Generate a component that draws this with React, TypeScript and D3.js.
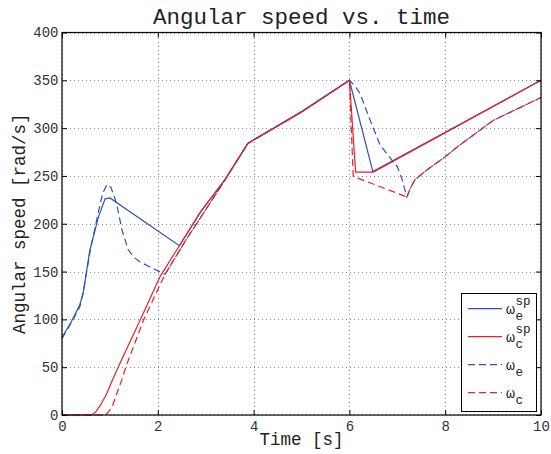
import React, { useEffect, useRef } from 'react';
import * as d3 from 'd3';

// tick values
const xTicks = [0, 2, 4, 6, 8, 10];
const yTicks = [0, 50, 100, 150, 200, 250, 300, 350, 400];

// [time s, speed rad/s]
const omegaESp: [number, number][] = [
  [0, 81], [0.2, 98], [0.37, 115], [0.44, 127], [0.58, 172], [0.76, 207],
  [0.9, 226], [1.0, 227], [2.45, 177], [2.9, 213], [3.4, 246], [3.88, 284],
  [5, 317], [6, 350], [6.49, 254.5], [10, 350],
];
const omegaCSp: [number, number][] = [
  [0, 0], [0.62, 0], [0.7, 3], [0.8, 10], [0.93, 22], [1.05, 36], [1.21, 54],
  [1.63, 99], [2.05, 145], [2.45, 177], [2.9, 213], [3.4, 246], [3.88, 284],
  [5, 317], [6, 350], [6.13, 254], [6.5, 254], [10, 350],
];
const omegaE: [number, number][] = [
  [0, 80], [0.2, 97], [0.37, 113], [0.45, 130], [0.6, 175], [0.75, 210],
  [0.85, 232], [0.93, 240], [0.97, 241], [1.02, 238], [1.08, 230], [1.14, 221],
  [1.25, 194], [1.38, 173], [1.5, 165], [1.63, 160], [2.15, 147], [2.6, 184],
  [3.33, 240], [3.88, 284], [5, 317], [6, 350], [6.1, 345], [6.22, 336.5],
  [6.43, 308.6], [6.64, 282.4], [6.8, 272], [7.0, 259.7], [7.09, 247.9],
  [7.2, 228], [7.28, 238], [7.37, 246], [7.61, 256], [8.0, 270], [8.27, 281],
  [9, 308], [10, 332],
];
const omegaC: [number, number][] = [
  [0, 0], [0.88, 0], [0.95, 2], [1.05, 9], [1.14, 22], [1.25, 37], [1.36, 54],
  [1.7, 99], [2.15, 147], [2.6, 184], [3.33, 240], [3.88, 284], [5, 317],
  [6, 350], [6.08, 249.5], [7.2, 228], [7.28, 238], [7.37, 246], [7.61, 256],
  [8.0, 270], [8.27, 281], [9, 308], [10, 332],
];

const legendSubs = ['e', 'c', 'e', 'c'];
const legendSups = ['sp', 'sp', '', ''];

const BLUE = '#2f52b0';
const RED = '#e8202a';
const FONT = '"Courier New", "Liberation Mono", monospace';

const App = () => {
  const ref = useRef<HTMLDivElement>(null);

  useEffect(() => {
    const width = 551;
    const height = 454;
    const margin = { top: 32.5, right: 10, bottom: 39, left: 62 };

    d3.select(ref.current).select('svg').remove();

    const svg = d3.select(ref.current)
      .append('svg')
      .attr('width', width)
      .attr('height', height)
      .style('display', 'block')
      .style('background', '#fff');

    const x = d3.scaleLinear().domain([0, 10]).range([margin.left, width - margin.right]);
    const y = d3.scaleLinear().domain([0, 400]).range([height - margin.bottom, margin.top]);
    const [x0, x1] = x.range();
    const [y0, y1] = y.range();

    // dotted grid
    const grid = svg.append('g')
      .attr('stroke', '#8a8a8a')
      .attr('stroke-width', 1)
      .attr('stroke-dasharray', '1,3');
    grid.selectAll('.gx')
      .data(xTicks)
      .enter().append('line')
      .attr('x1', d => Math.round(x(d)) + 0.5)
      .attr('x2', d => Math.round(x(d)) + 0.5)
      .attr('y1', y0)
      .attr('y2', y1);
    grid.selectAll('.gy')
      .data(yTicks)
      .enter().append('line')
      .attr('x1', x0)
      .attr('x2', x1)
      .attr('y1', d => Math.round(y(d)) + 0.5)
      .attr('y2', d => Math.round(y(d)) + 0.5);

    // series
    const line = d3.line<[number, number]>()
      .x(d => x(d[0]))
      .y(d => y(d[1]));

    const series = [
      { data: omegaESp, color: BLUE, dash: null },
      { data: omegaCSp, color: RED, dash: null },
      { data: omegaE, color: BLUE, dash: '7,4' },
      { data: omegaC, color: RED, dash: '7,4' },
    ];

    series.forEach(s => {
      svg.append('path')
        .datum(s.data)
        .attr('d', line)
        .attr('fill', 'none')
        .attr('stroke', s.color)
        .attr('stroke-width', 1.2)
        .attr('stroke-dasharray', s.dash);
    });

    // axes (inward ticks on all four sides)
    const styleAxis = (g: any) => {
      g.select('.domain').remove();
      g.selectAll('.tick line').attr('stroke', '#000');
      g.selectAll('text')
        .style('font-family', FONT)
        .style('font-size', '14px')
        .attr('fill', '#333');
    };

    svg.append('g')
      .attr('transform', `translate(0, ${y0})`)
      .call(d3.axisBottom(x).tickValues(xTicks).tickSize(-5).tickPadding(6))
      .call(styleAxis);

    svg.append('g')
      .attr('transform', `translate(0, ${y1})`)
      .call(d3.axisTop(x).tickValues(xTicks).tickSize(-5).tickFormat(() => ''))
      .call(styleAxis);

    svg.append('g')
      .attr('transform', `translate(${x0}, 0)`)
      .call(d3.axisLeft(y).tickValues(yTicks).tickSize(-5).tickPadding(3.5))
      .call(styleAxis);

    svg.append('g')
      .attr('transform', `translate(${x1}, 0)`)
      .call(d3.axisRight(y).tickValues(yTicks).tickSize(-5).tickFormat(() => ''))
      .call(styleAxis);

    // box
    svg.append('rect')
      .attr('x', x0)
      .attr('y', y1)
      .attr('width', x1 - x0)
      .attr('height', y0 - y1)
      .attr('fill', 'none')
      .attr('stroke', '#000')
      .attr('stroke-width', 1.2);

    // title and labels
    svg.append('text')
      .attr('x', (x0 + x1) / 2)
      .attr('y', 24)
      .attr('text-anchor', 'middle')
      .style('font-family', FONT)
      .style('font-size', '22.5px')
      .attr('fill', '#222')
      .text('Angular speed vs. time');

    svg.append('text')
      .attr('x', (x0 + x1) / 2)
      .attr('y', 445)
      .attr('text-anchor', 'middle')
      .style('font-family', FONT)
      .style('font-size', '17.5px')
      .attr('fill', '#222')
      .text('Time [s]');

    svg.append('text')
      .attr('transform', `translate(25, ${(y0 + y1) / 2}) rotate(-90)`)
      .attr('text-anchor', 'middle')
      .style('font-family', FONT)
      .style('font-size', '17.5px')
      .attr('fill', '#222')
      .text('Angular speed [rad/s]');

    // legend
    const lg = svg.append('g');
    lg.append('rect')
      .attr('x', 461.5)
      .attr('y', 293.5)
      .attr('width', 75)
      .attr('height', 118)
      .attr('fill', '#fff')
      .attr('stroke', '#000')
      .attr('stroke-width', 1);

    series.forEach((s, i) => {
      const cy = 308.7 + i * 28;
      lg.append('line')
        .attr('x1', 468)
        .attr('x2', 502)
        .attr('y1', cy)
        .attr('y2', cy)
        .attr('stroke', s.color)
        .attr('stroke-width', 1.2)
        .attr('stroke-dasharray', s.dash);
      lg.append('text')
        .attr('x', 506)
        .attr('y', cy + 4.8)
        .style('font-family', FONT)
        .style('font-size', '15px')
        .attr('fill', '#222')
        .text('ω');
      lg.append('text')
        .attr('x', 515.5)
        .attr('y', cy + 11.5)
        .style('font-family', FONT)
        .style('font-size', '12.5px')
        .attr('fill', '#222')
        .text(legendSubs[i]);
      if (legendSups[i]) {
        lg.append('text')
          .attr('x', 515.5)
          .attr('y', cy - 3.5)
          .style('font-family', FONT)
          .style('font-size', '12.5px')
          .attr('fill', '#222')
          .text(legendSups[i]);
      }
    });
  }, []);

  return (
    <div ref={ref} style={{ position: 'absolute', left: 0, top: 0 }}></div>
  );
};

export default App;
